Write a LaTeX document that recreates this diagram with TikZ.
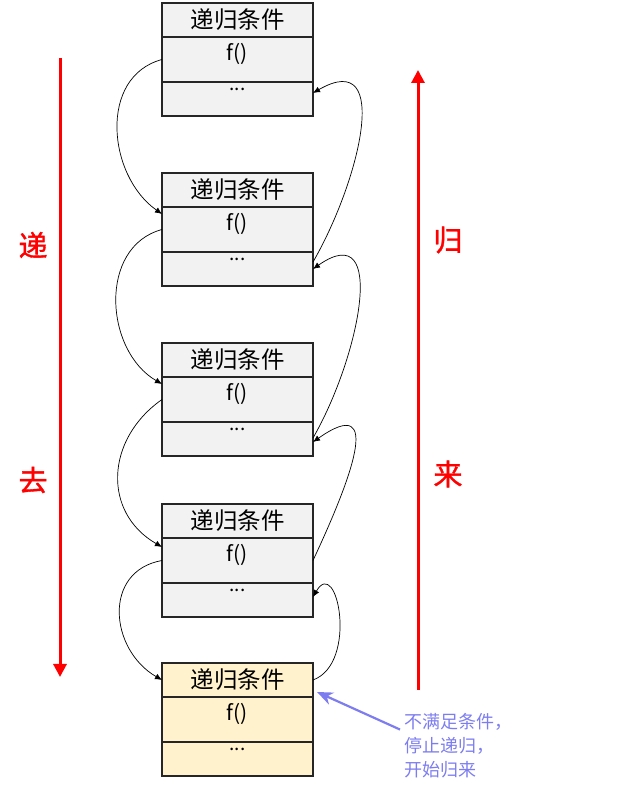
\documentclass[tikz,border=0pt]{standalone}
\usepackage{fontspec}
\setmainfont{Noto Sans CJK SC}
\newfontfamily\sidefont{Noto Sans CJK SC}[FakeBold=1.2]
\usetikzlibrary{arrows.meta, positioning}

\definecolor{framegray}{RGB}{242,242,242}
\definecolor{frameyellow}{RGB}{255,242,204}
\definecolor{notecol}{RGB}{125,125,240}

\begin{document}
\begin{tikzpicture}[x=1pt, y=1pt,
  row/.style={draw=black!85, line width=1.6pt, minimum width=151pt, inner sep=0pt, outer sep=0pt},
  titlerow/.style={row, minimum height=34pt, font=\fontsize{23.5}{26}\selectfont},
  funcrow/.style={row, minimum height=45pt, font=\fontsize{21}{24}\selectfont, text height=11pt, text depth=9pt},
  tailrow/.style={row, minimum height=34pt, font=\fontsize{19}{22}\selectfont, text height=0pt, text depth=17pt},
  link/.style={-{Latex[length=7pt,width=6pt]}, line width=0.7pt},
  redarrow/.style={-{Triangle[length=13pt,width=13pt]}, line width=3pt, red},
  redlabel/.style={red, font=\sidefont\fontsize{29}{32}\selectfont},
  note/.style={notecol, font=\fontsize{18}{24}\selectfont, align=left, inner sep=0pt}
]
  \useasboundingbox (0,0) rectangle (642,785);

  % stack frames
  \foreach \i/\y/\c in {1/765/framegray, 2/595/framegray, 3/425/framegray, 4/264/framegray, 5/105/frameyellow} {
    \node[titlerow, fill=\c] (t\i) at (237.5,\y) {递归条件};
    \node[funcrow, fill=\c, below=0pt of t\i] (f\i) {f()};
    \node[tailrow, fill=\c, below=0pt of f\i] (e\i) {...};
  }

  % calls going down
  \draw[link] (f1.west) to[out=195, in=145, looseness=1.1] ([yshift=-7pt]f2.north west);
  \draw[link] (f2.west) to[out=195, in=150, looseness=1.1] ([yshift=-7pt]f3.north west);
  \draw[link] (f3.west) to[out=215, in=150, looseness=1.2] ([yshift=-9pt]f4.north west);
  \draw[link] (f4.west) to[out=190, in=150, looseness=1.3] (t5.west);

  % returns going up
  \draw[link] ([yshift=-10pt]e2.north east) to[out=60, in=30, looseness=1.4] ([yshift=6pt]e1.east);
  \draw[link] ([yshift=-16pt]e3.north east) to[out=60, in=35, looseness=1.4] (e2.east);
  \draw[link] (f4.east) to[out=65, in=35, looseness=1.9] ([yshift=-3pt]e3.east);
  \draw[link] (t5.east) to[out=20, in=60, looseness=1.5] ([yshift=3pt]e4.east);

  % side arrows
  \coordinate (godown) at (60,727);
  \coordinate (gobottom) at (60,108);
  \coordinate (comeup) at (418,95);
  \coordinate (cometop) at (418,715);
  \draw[redarrow] (godown) -- (gobottom);
  \draw[redarrow] (comeup) -- (cometop);
  \node[redlabel] (di) at (33,540) {递};
  \node[redlabel] (qu) at (33,305) {去};
  \node[redlabel] (gui) at (448,545) {归};
  \node[redlabel] (lai) at (448,311) {来};

  \node[note, anchor=north west] (stop) at (404,72) {不满足条件，\\停止递归，\\开始归来};
  \draw[notecol, line width=2.2pt, -{Stealth[length=16pt,width=13pt]}]
    ([shift={(-4pt,16pt)}]stop.west) -- ([shift={(4pt,5pt)}]t5.south east);
\end{tikzpicture}
\end{document}
